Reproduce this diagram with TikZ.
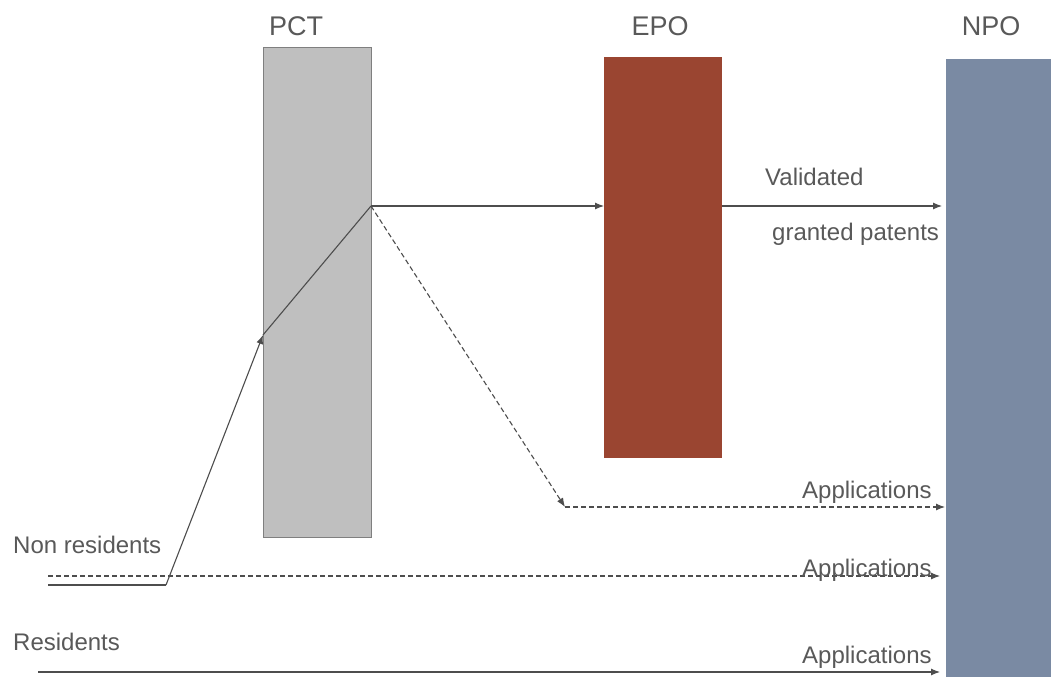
\documentclass[tikz,border=0pt]{standalone}
\usepackage{fontspec}
\setmainfont{Liberation Sans}
\usetikzlibrary{arrows.meta}
\definecolor{txtgray}{HTML}{595959}
\definecolor{linegray}{HTML}{4D4D4D}
\definecolor{pctfill}{HTML}{BFBFBF}
\definecolor{pctedge}{HTML}{7F7F7F}
\definecolor{epofill}{HTML}{9A4531}
\definecolor{npofill}{HTML}{7A8AA3}
\begin{document}
\begin{tikzpicture}[x=1pt,y=-1pt,
  office/.style={draw=none,inner sep=0pt,outer sep=0pt},
  title/.style={anchor=base,text=txtgray,font=\fontsize{27}{30}\selectfont,inner sep=0pt},
  lbl/.style={anchor=base west,text=txtgray,font=\fontsize{24}{28}\selectfont,inner sep=0pt},
  flow/.style={draw=linegray,line width=1.1pt,-{Latex[length=9pt,width=7pt]}},
  flowplain/.style={draw=linegray,line width=1.1pt},
  dflow/.style={flow,dash pattern=on 5pt off 3pt},
  dflowplain/.style={flowplain,dash pattern=on 5pt off 3pt}]
\useasboundingbox (0,0) rectangle (1051,677);
\fill[white] (0,0) rectangle (1051,677);

% offices
\draw[fill=pctfill,draw=pctedge,line width=1pt] (263,48) rectangle (371,537);
\node[office,minimum width=108pt,minimum height=489pt] (pct) at (317,292.5) {};
\fill[epofill] (604,57) rectangle (722,458);
\node[office,minimum width=118pt,minimum height=401pt] (epo) at (663,257.5) {};
\fill[npofill] (946,59) rectangle (1051,677);
\node[office,minimum width=105pt,minimum height=618pt] (npo) at (998.5,368) {};

\node[title] (tpct) at (296,36) {PCT};
\node[title] (tepo) at (660,36) {EPO};
\node[title] (tnpo) at (991,36) {NPO};

% route points
\coordinate (nrstart) at (48,585);
\coordinate (kink) at (166,585);
\coordinate (pctin) at (263,335);
\coordinate (pctout) at (371,206);
\coordinate (epoin) at (604,206);
\coordinate (epoout) at (722,206);
\coordinate (npoval) at (942,206);
\coordinate (turn) at (565,507);
\coordinate (npoapp1) at (945,507);
\coordinate (dstart) at (48,576);
\coordinate (npoapp2) at (940,576);
\coordinate (rstart) at (38,672);
\coordinate (npoapp3) at (940,672);

% non residents via PCT
\draw[flowplain] (nrstart) -- (kink);
\draw[flow] (kink) -- (pctin);
\draw[flowplain] (pctin) -- (pctout);
\draw[flow] (pctout) -- (epoin);
\draw[flow] (epoout) -- (npoval);
\draw[dflow] (pctout) -- (turn);
\draw[dflow] (turn) -- (npoapp1);

% direct routes
\draw[dflow] (dstart) -- (npoapp2);
\draw[flow] (rstart) -- (npoapp3);

% labels
\node[lbl] (lval) at (765,185) {Validated};
\node[lbl] (lgra) at (772,240) {granted patents};
\node[lbl] (la1) at (802,498) {Applications};
\node[lbl] (la2) at (802,576) {Applications};
\node[lbl] (la3) at (802,663) {Applications};
\node[lbl] (lnr) at (13,553) {Non residents};
\node[lbl] (lr) at (13,650) {Residents};
\end{tikzpicture}
\end{document}
